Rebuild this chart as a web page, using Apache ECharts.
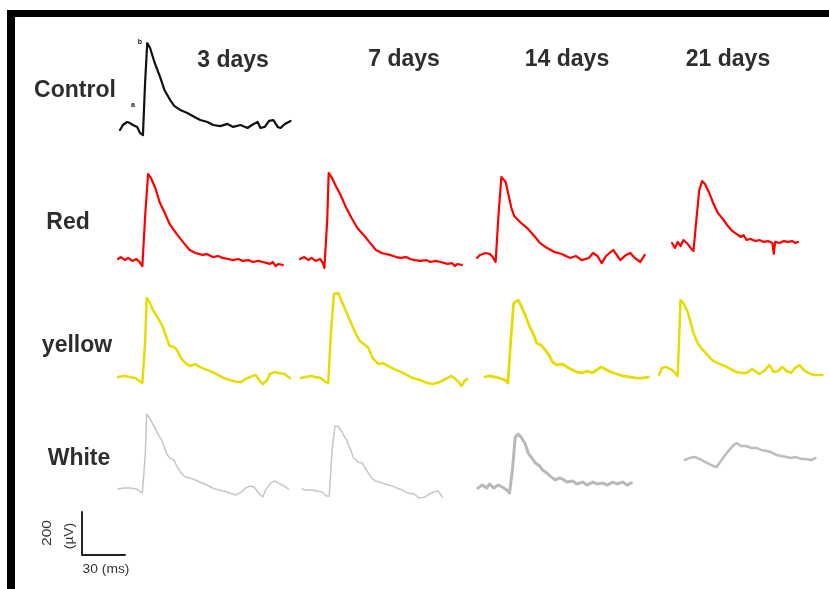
<!DOCTYPE html>
<html>
<head>
<meta charset="utf-8">
<script src="https://cdn.jsdelivr.net/npm/echarts@6/dist/echarts.min.js"></script>
<style>
html,body{margin:0;padding:0;background:#fff;}
#chart{width:829px;height:589px;}
</style>
</head>
<body>
<div id="chart"></div>
<script>
// ---------- DATA (time in ms, amplitude in µV, relative to each trace's baseline) ----------
const rowLabels = ['Control', 'Red', 'yellow', 'White'];
const dayLabels = ['3 days', '7 days', '14 days', '21 days'];
const scaleBarMs = 30;
const scaleBarUv = 200;
const scaleBarLabels = ['200', '(µV)', '30 (ms)'];
const waveLabels = ['a', 'b'];

const control = [[0,-23],[2,0],[5,14],[7,9],[9,0],[12,-9],[14,-37],[16,-47],[17.5,195],[19,381],[21,358],[24,293],[28,223],[31,163],[35,116],[38,88],[42,70],[47,56],[52,37],[56,23],[61,14],[65,0],[70,-5],[75,5],[79,-9],[84,0],[89,-14],[92,0],[96,14],[98,-14],[101,-9],[104,19],[107,23],[110,-9],[112,-14],[115,5],[119,19]];

const red3 = [[0,0],[2,9],[5,-5],[7,5],[10,-9],[13,0],[15,-14],[17,-33],[19,205],[21,395],[23,377],[26,330],[29,265],[33,209],[36,163],[41,116],[46,74],[50,42],[54,28],[59,19],[62,23],[66,9],[70,14],[73,5],[77,0],[80,-5],[84,0],[87,-9],[91,-5],[94,-14],[98,-9],[101,-14],[104,-19],[106,-23],[108,-14],[110,-33],[112,-23],[115,-28]];
const red7 = [[0,0],[3,9],[6,-5],[8,5],[11,-9],[14,0],[16,-19],[17,-42],[19,181],[20,400],[22,381],[25,340],[28,302],[32,242],[36,191],[40,144],[45,107],[49,74],[53,42],[57,28],[60,23],[63,19],[67,9],[70,5],[74,9],[77,0],[80,-5],[84,-9],[88,-5],[91,-14],[95,-9],[98,-14],[101,-19],[103,-23],[106,-19],[108,-33],[110,-23],[113,-28]];
const red14 = [[0,-9],[2,5],[6,14],[9,9],[11,-5],[13,-28],[15,191],[17,367],[20,344],[22,284],[24,223],[26,186],[30,158],[35,130],[40,93],[44,60],[49,37],[54,19],[59,9],[65,-9],[69,0],[73,-19],[78,-9],[81,14],[84,0],[87,-33],[90,0],[95,28],[98,0],[100,-19],[104,5],[107,14],[110,-9],[114,-28],[117,5]];
const red21 = [[0,0],[2,-23],[4,5],[6,-14],[8,14],[11,-5],[13,-23],[15,-37],[17,107],[19,246],[21,288],[23,274],[26,233],[29,181],[32,140],[36,107],[39,79],[42,56],[45,42],[48,28],[50,37],[52,14],[55,19],[58,9],[61,14],[64,5],[67,9],[70,0],[71,-50],[72,5],[75,0],[78,9],[81,5],[84,9],[86,0],[88,5]];

const yellow3 = [[0,0],[4,5],[8,0],[12,-5],[15,-19],[17,-28],[19,172],[20,367],[22,349],[24,316],[27,284],[31,237],[34,181],[36,144],[39,140],[41,126],[44,88],[47,65],[50,51],[54,60],[57,47],[62,33],[66,23],[70,9],[74,-5],[78,-14],[83,-23],[86,-23],[89,-9],[94,5],[96,9],[98,-9],[101,-33],[104,-14],[106,14],[109,23],[112,19],[116,14],[120,-5]];
const yellow7 = [[0,-5],[3,0],[7,5],[10,0],[14,-5],[17,-23],[19,-28],[21,219],[23,386],[26,391],[28,358],[31,312],[34,265],[38,205],[41,167],[44,153],[47,135],[50,88],[54,60],[57,65],[61,51],[65,37],[70,23],[74,9],[78,-5],[83,-14],[88,-28],[92,-33],[97,-23],[101,-9],[105,5],[107,-5],[110,-23],[112,-42],[114,-19],[116,-9]];
const yellow14 = [[0,0],[3,5],[7,0],[10,-5],[14,-14],[16,-28],[18,172],[20,344],[23,358],[25,335],[28,288],[31,237],[34,195],[36,158],[39,149],[42,126],[45,98],[47,70],[50,56],[54,60],[57,47],[61,33],[64,23],[68,19],[71,28],[75,19],[78,33],[81,47],[85,33],[88,23],[92,14],[96,5],[101,0],[106,-5],[110,-5],[114,0]];
const yellow21 = [[0,-5],[2,28],[5,33],[8,23],[10,14],[13,-9],[14,158],[15,344],[17,330],[20,288],[22,242],[24,191],[27,144],[30,116],[34,88],[37,65],[41,51],[44,42],[47,33],[51,19],[54,9],[58,5],[61,5],[65,23],[68,9],[70,0],[74,19],[77,42],[80,9],[83,14],[86,33],[89,14],[92,5],[95,28],[98,42],[101,19],[104,5],[108,-5],[114,-5]];

const white3 = [[0,-5],[4,0],[8,0],[13,-5],[15,-14],[17,-23],[19,153],[20,344],[22,326],[25,288],[28,251],[31,214],[34,158],[36,140],[39,130],[41,102],[44,70],[47,51],[50,47],[54,37],[57,28],[62,14],[66,0],[70,-9],[74,-14],[78,-23],[82,-33],[86,-19],[89,0],[92,9],[95,5],[98,-23],[101,-42],[103,-9],[106,19],[109,33],[112,23],[116,9],[119,-5]];
const white7 = [[0,0],[3,-5],[7,-5],[10,-9],[14,-14],[17,-33],[19,-33],[21,181],[23,293],[25,293],[28,265],[31,228],[34,181],[36,144],[39,126],[42,121],[45,88],[48,56],[51,37],[54,33],[58,23],[61,19],[66,5],[70,-5],[74,-19],[78,-23],[82,-42],[86,-37],[89,-23],[92,-14],[95,-9],[98,-37]];
const white14 = [[0,-5],[3,9],[6,-5],[8,14],[11,-5],[14,9],[17,0],[20,-14],[22,-28],[24,79],[26,233],[28,246],[30,233],[33,200],[35,158],[37,140],[40,112],[43,98],[45,79],[48,65],[51,47],[54,33],[57,42],[59,37],[62,23],[66,28],[69,14],[73,23],[76,9],[80,23],[83,14],[87,19],[90,9],[94,23],[97,14],[101,23],[104,9],[107,19]];
const white21 = [[0,0],[3,9],[7,14],[10,5],[14,-9],[17,-19],[20,-28],[22,-33],[25,-5],[28,23],[31,47],[34,70],[36,79],[39,65],[43,65],[46,56],[50,56],[53,47],[57,42],[60,37],[64,23],[67,19],[71,14],[74,9],[77,14],[81,5],[84,5],[88,0],[91,9]];

// ---------- LAYOUT ----------
const PX = 43 / 30;   // px per ms
const PY = 43 / 200;  // px per µV
const Y_MIN = -100, Y_MAX = 450;

const traces = [
  {data: control,  x0: 120, y0: 125, color: '#111111', w: 2.2},
  {data: red3,     x0: 118, y0: 259, color: '#ff0000', w: 2.2},
  {data: red7,     x0: 300, y0: 259, color: '#ff0000', w: 2.2},
  {data: red14,    x0: 477, y0: 256, color: '#ff0000', w: 2.2},
  {data: red21,    x0: 672, y0: 243, color: '#ff0000', w: 2.2},
  {data: yellow3,  x0: 118, y0: 377, color: '#e6dc00', w: 2.5},
  {data: yellow7,  x0: 301, y0: 377, color: '#e6dc00', w: 2.5},
  {data: yellow14, x0: 485, y0: 377, color: '#e6dc00', w: 2.8},
  {data: yellow21, x0: 659, y0: 374, color: '#e6dc00', w: 2.5},
  {data: white3,   x0: 118, y0: 488, color: '#c6c6c6', w: 1.5},
  {data: white7,   x0: 302, y0: 489, color: '#c6c6c6', w: 1.5},
  {data: white14,  x0: 478, y0: 487, color: '#b9b9b9', w: 3},
  {data: white21,  x0: 685, y0: 460, color: '#bdbdbd', w: 2.5}
];
// scale bar trace, drawn with the same ms / µV scale
const scaleBar = {data: [[0, scaleBarUv], [0, 0], [scaleBarMs, 0]], x0: 82, y0: 555, color: '#222222', w: 2};

const grids = [], xAxes = [], yAxes = [], series = [];
[...traces, scaleBar].forEach((tr, i) => {
  const tMax = tr.data[tr.data.length - 1][0] + 2;
  grids.push({left: tr.x0, top: tr.y0 - Y_MAX * PY, width: tMax * PX, height: (Y_MAX - Y_MIN) * PY,
    containLabel: false, outerBoundsMode: 'none', show: false});
  xAxes.push({type: 'value', gridIndex: i, min: 0, max: tMax, show: false});
  yAxes.push({type: 'value', gridIndex: i, min: Y_MIN, max: Y_MAX, show: false, scale: false});
  series.push({
    type: 'line', xAxisIndex: i, yAxisIndex: i, data: tr.data,
    showSymbol: false, symbol: 'none', smooth: false, animation: false,
    lineStyle: {color: tr.color, width: tr.w, join: 'round', cap: 'round'},
    clip: false, silent: true
  });
});

const FONT = '"Liberation Sans", Arial, Helvetica, sans-serif';
function txt(text, x, y, size, opts) {
  opts = opts || {};
  return {
    type: 'text', x: x, y: y, rotation: opts.rotation || 0, scaleX: opts.scaleX || 1, silent: true, z: 10,
    style: {
      text: text, fill: opts.fill || '#2e2e2e',
      font: (opts.weight || 'bold') + ' ' + size + 'px ' + FONT,
      textAlign: 'center', textVerticalAlign: 'middle', align: 'center', verticalAlign: 'middle'
    }
  };
}

const graphics = [
  {type: 'rect', shape: {x: 7, y: 10, width: 822, height: 7}, style: {fill: '#000'}, silent: true},
  {type: 'rect', shape: {x: 7, y: 10, width: 8, height: 579}, style: {fill: '#000'}, silent: true},
  txt(rowLabels[0], 75, 91, 23),
  txt(rowLabels[1], 68, 223, 23),
  txt(rowLabels[2], 77, 346, 23),
  txt(rowLabels[3], 79, 459, 23),
  txt(dayLabels[0], 233, 61, 23),
  txt(dayLabels[1], 404, 60, 23),
  txt(dayLabels[2], 567, 60, 23),
  txt(dayLabels[3], 728, 60, 23),
  txt(waveLabels[0], 133, 105, 7, {fill: '#111'}),
  txt(waveLabels[1], 140, 42, 7, {fill: '#111'}),
  txt(scaleBarLabels[0], 48, 533, 12, {rotation: Math.PI / 2, scaleX: 1.3, weight: 'normal', fill: '#333'}),
  txt(scaleBarLabels[1], 70, 536, 12, {rotation: Math.PI / 2, scaleX: 1.15, weight: 'normal', fill: '#333'}),
  txt(scaleBarLabels[2], 106, 570, 12, {scaleX: 1.15, weight: 'normal', fill: '#333'})
];

const chart = echarts.init(document.getElementById('chart'), null, {renderer: 'canvas'});
chart.setOption({
  animation: false,
  backgroundColor: '#ffffff',
  grid: grids,
  xAxis: xAxes,
  yAxis: yAxes,
  series: series,
  graphic: graphics
});
</script>
</body>
</html>
